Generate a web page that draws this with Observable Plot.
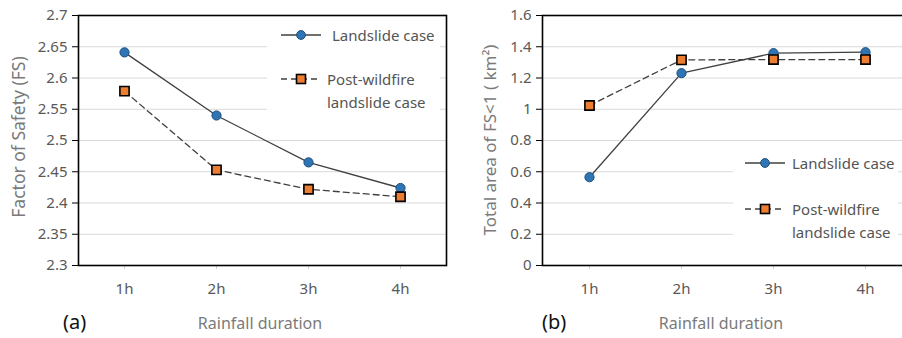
<!DOCTYPE html>
<html>
<head>
<meta charset="utf-8">
<script src="https://cdn.jsdelivr.net/npm/d3@7"></script>
<script src="https://cdn.jsdelivr.net/npm/@observablehq/plot@0.6"></script>
<style>
  html, body { margin: 0; padding: 0; background: #fff; overflow: hidden; }
  body { width: 902px; height: 338px; position: relative; font-family: "Noto Sans", sans-serif; }
  .panel { position: absolute; top: 0; }
  .txt { position: absolute; white-space: nowrap; color: #7a7a7a; font-size: 16px; line-height: 1; }
  .ytitle { transform: translate(-50%, -50%) rotate(-90deg); font-size: 17px; }
  .xtitle { transform: translate(-50%, -50%); }
  .tag { position: absolute; color: #111; font-size: 20px; line-height: 1; transform: translate(0, -50%); }
  .legend { position: absolute; background: #fff; }
  .legend .item { position: absolute; display: flex; align-items: flex-start; }
  .legend .lab { font-size: 15px; color: #555; line-height: 23px; }
</style>
</head>
<body>
<script>
const durations = ["1h", "2h", "3h", "4h"];
const fsLandslide = [2.641, 2.540, 2.465, 2.424];
const fsPostWildfire = [2.579, 2.453, 2.422, 2.410];
const areaLandslide = [0.565, 1.231, 1.359, 1.365];
const areaPostWildfire = [1.024, 1.316, 1.318, 1.318];
const fsTicks = [2.3, 2.35, 2.4, 2.45, 2.5, 2.55, 2.6, 2.65, 2.7];
const areaTicks = [0, 0.2, 0.4, 0.6, 0.8, 1, 1.2, 1.4, 1.6];
const seriesNames = ["Landslide case", "Post-wildfire\nlandslide case"];

const LINE = "#404040";
const BLUE = "#2E75B6", BLUE_EDGE = "#1F4E79";
const ORANGE = "#ED7D31";

function rows(vals) { return durations.map((d, i) => ({ d, v: vals[i] })); }

function makePanel({ width, marginLeft, marginRight, domain, ticks, s1, s2 }) {
  return Plot.plot({
    width, height: 338,
    marginLeft, marginRight, marginTop: 15, marginBottom: 73,
    style: { fontFamily: "Noto Sans, sans-serif", fontSize: "15px", color: "#595959", background: "#fff" },
    x: { type: "band", domain: durations, padding: 0 },
    y: { domain, ticks },
    marks: [
      Plot.gridY(ticks, { stroke: "#d9d9d9", strokeOpacity: 1, strokeWidth: 1 }),
      Plot.axisY(ticks, { tickSize: 6, tickPadding: 5, stroke: "#000", label: null,
        tickFormat: v => String(+v.toFixed(2)), fontSize: 15, fill: "#595959" }),
      Plot.axisX({ tickSize: 4, tickPadding: 14, stroke: "#cfcfcf", label: null, fontSize: 15, fill: "#595959" }),
      Plot.frame({ stroke: "#000", strokeWidth: 1.6 }),
      Plot.line(rows(s1), { x: "d", y: "v", stroke: LINE, strokeWidth: 1.3 }),
      Plot.line(rows(s2), { x: "d", y: "v", stroke: LINE, strokeWidth: 1.3, strokeDasharray: "6,4" }),
      Plot.dot(rows(s1), { x: "d", y: "v", symbol: "circle", r: 4.6, fill: BLUE, stroke: BLUE_EDGE, strokeWidth: 1 }),
      Plot.dot(rows(s2), { x: "d", y: "v", symbol: "square", r: 5.2, fill: ORANGE, stroke: "#000", strokeWidth: 1.6 })
    ]
  });
}

function addEl(cls, text, left, top, extra) {
  const el = document.createElement("div");
  el.className = cls;
  el.textContent = text;
  el.style.left = left + "px";
  el.style.top = top + "px";
  if (extra) Object.assign(el.style, extra);
  document.body.appendChild(el);
  return el;
}

function symbolSvg(kind) {
  const s = kind === "circle"
    ? `<line x1="1" y1="11" x2="41" y2="11" stroke="${LINE}" stroke-width="1.3"/>
       <circle cx="21" cy="11" r="4.4" fill="${BLUE}" stroke="${BLUE_EDGE}" stroke-width="1"/>`
    : `<line x1="1" y1="11" x2="41" y2="11" stroke="${LINE}" stroke-width="1.3" stroke-dasharray="6,4"/>
       <rect x="16.5" y="6.5" width="9" height="9" fill="${ORANGE}" stroke="#000" stroke-width="1.6"/>`;
  return `<svg width="42" height="22" style="flex:none">${s}</svg>`;
}

function addLegend(box, items) {
  const lg = document.createElement("div");
  lg.className = "legend";
  Object.assign(lg.style, { left: box.left + "px", top: box.top + "px", width: box.width + "px", height: box.height + "px" });
  items.forEach(it => {
    const d = document.createElement("div");
    d.className = "item";
    d.style.left = it.x + "px";
    d.style.top = it.y + "px";
    d.innerHTML = symbolSvg(it.kind) + `<div class="lab" style="margin-left:${it.gap}px">${it.label.replace("\n", "<br>")}</div>`;
    lg.appendChild(d);
  });
  document.body.appendChild(lg);
}

// Panel (a)
const pa = makePanel({ width: 451, marginLeft: 78, marginRight: 5, domain: [2.3, 2.7], ticks: fsTicks, s1: fsLandslide, s2: fsPostWildfire });
pa.classList.add("panel");
pa.style.left = "0px";
document.body.appendChild(pa);

// Panel (b)
const pb = makePanel({ width: 470, marginLeft: 91, marginRight: 10, domain: [0, 1.6], ticks: areaTicks, s1: areaLandslide, s2: areaPostWildfire });
pb.classList.add("panel");
pb.style.left = "451px";
document.body.appendChild(pb);

// Titles
addEl("txt ytitle", "Factor of Safety (FS)", 19, 137, { fontSize: "17.5px" });
addEl("txt xtitle", "Rainfall duration", 260, 323);
addEl("tag", "(a)", 63, 322);
addEl("txt ytitle", "Total area of FS<1 ( km²)", 489, 140);
addEl("txt xtitle", "Rainfall duration", 721, 323);
addEl("tag", "(b)", 542, 322);

// Legends
addLegend({ left: 267, top: 20, width: 173, height: 95 }, [
  { kind: "circle", label: seriesNames[0], x: 13, y: 4, gap: 10 },
  { kind: "square", label: seriesNames[1], x: 13, y: 48, gap: 5 }
]);
addLegend({ left: 733, top: 146, width: 165, height: 104 }, [
  { kind: "circle", label: seriesNames[0], x: 11, y: 6, gap: 6 },
  { kind: "square", label: seriesNames[1], x: 11, y: 52, gap: 6 }
]);
</script>
</body>
</html>
